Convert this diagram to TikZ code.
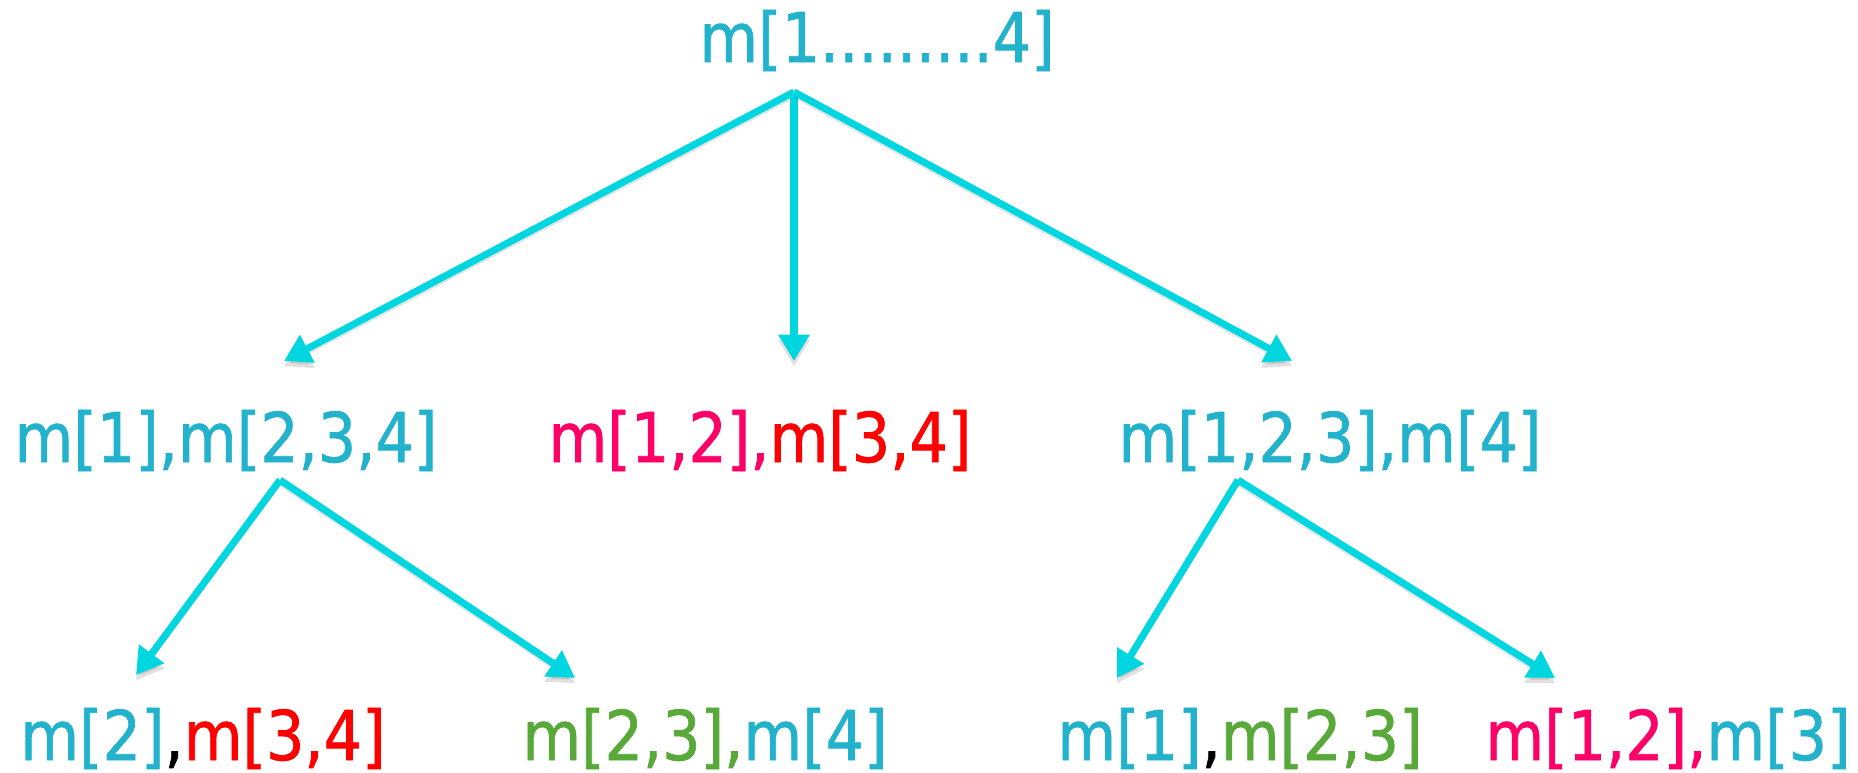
\documentclass[tikz,border=0pt]{standalone}
\usepackage{fontspec}
\usepackage{xcolor}
\usepackage{tikz}
\usetikzlibrary{arrows.meta}
\setmainfont{DejaVu Sans}[FakeStretch=0.88,FakeBold=1]

\definecolor{morski}{HTML}{22B2CC}
\definecolor{rozowy}{HTML}{FF0066}
\definecolor{czerwony}{HTML}{FF0000}
\definecolor{zielony}{HTML}{58A83A}
\definecolor{strzalki}{HTML}{00D6E0}

\begin{document}
\begin{tikzpicture}[x=0.01cm,y=-0.01cm,
  etykieta/.style={anchor=base,inner sep=0pt,text=morski,
    font=\fontsize{19.5}{23}\selectfont},
  strzalka/.style={strzalki,line width=2pt,
    -{Triangle[length=7.5pt,width=8.5pt]},
    preaction={draw=black,opacity=.12,transform canvas={yshift=-1.5pt}}}]
  \useasboundingbox (0,0) rectangle (1858,772);

  % Korzeń
  \node[etykieta] (root) at (877,62) {m[1.........4]};

  % Pierwszy podział
  \node[etykieta] (l) at (226,462) {m[1],m[2,3,4]};
  \node[etykieta] (c) at (760,462)
    {\textcolor{rozowy}{m[1,2],}\textcolor{czerwony}{m[3,4]}};
  \node[etykieta] (r) at (1330,462) {m[1,2,3],m[4]};

  % Drugi podział
  \node[etykieta] (ll) at (203,760)
    {m[2]\textcolor{black}{,}\textcolor{czerwony}{m[3,4]}};
  \node[etykieta] (lr) at (705,760) {\textcolor{zielony}{m[2,3],}m[4]};
  \node[etykieta] (rl) at (1240,760)
    {m[1]\textcolor{black}{,}\textcolor{zielony}{m[2,3]}};
  \node[etykieta] (rr) at (1668,760) {\textcolor{rozowy}{m[1,2],}m[3]};

  % Punkty rozgałęzień i groty
  \coordinate (root-s) at ([shift={(-83,30)}]root.base);
  \coordinate (l-n) at ([shift={(58,-101)}]l.base);
  \coordinate (c-n) at ([shift={(34,-101)}]c.base);
  \coordinate (r-n) at ([shift={(-38,-101)}]r.base);
  \coordinate (l-s) at ([shift={(54,18)}]l.base);
  \coordinate (r-s) at ([shift={(-92,18)}]r.base);
  \coordinate (ll-n) at ([shift={(-67,-85)}]ll.base);
  \coordinate (lr-n) at ([shift={(-130,-82)}]lr.base);
  \coordinate (rl-n) at ([shift={(-123,-82)}]rl.base);
  \coordinate (rr-n) at ([shift={(-113,-82)}]rr.base);

  % Strzałki
  \draw[strzalka] (root-s) -- (l-n);
  \draw[strzalka] (root-s) -- (c-n);
  \draw[strzalka] (root-s) -- (r-n);
  \draw[strzalka] (l-s) -- (ll-n);
  \draw[strzalka] (l-s) -- (lr-n);
  \draw[strzalka] (r-s) -- (rl-n);
  \draw[strzalka] (r-s) -- (rr-n);
\end{tikzpicture}
\end{document}
